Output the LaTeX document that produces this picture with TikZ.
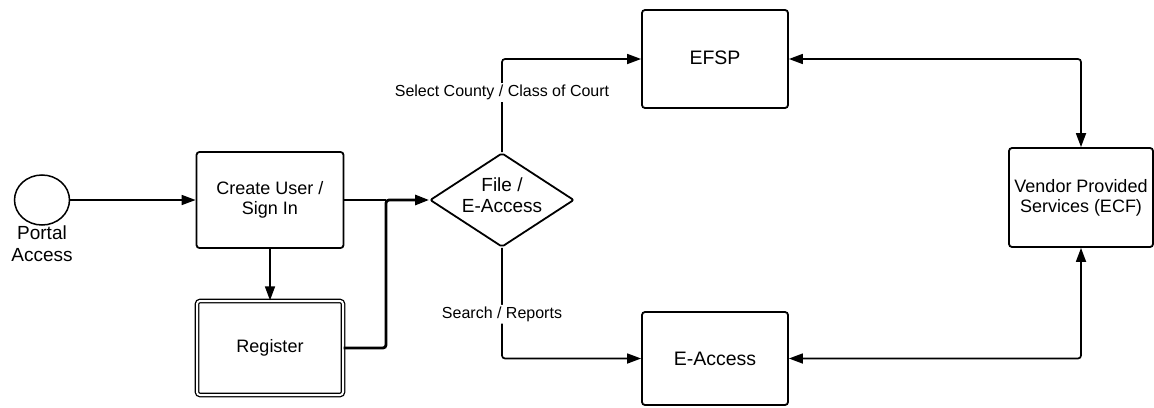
\documentclass[tikz,border=0pt]{standalone}
\usepackage{fontspec}
\setmainfont{Liberation Sans}
\usetikzlibrary{arrows.meta,shapes.geometric}
\begin{document}
\begin{tikzpicture}[x=1pt,y=-1pt,
  box/.style={draw, line width=1.8pt, rounded corners=3pt, inner sep=0pt, align=center,
    font=\fontsize{18}{20}\selectfont},
  dbox/.style={box, double, double distance=2pt, line width=1.3pt},
  decision/.style={draw, diamond, line width=1.8pt, rounded corners=2pt, inner sep=0pt},
  flow/.style={line width=1.7pt, rounded corners=3pt},
  tip/.style={Triangle[length=14pt,width=10pt]},
  arr/.style={flow, -{Triangle[length=14pt,width=10pt]}},
  dblarr/.style={flow, {Triangle[length=14pt,width=10pt]}-{Triangle[length=14pt,width=10pt]}},
  edgelbl/.style={fill=white, inner sep=2pt, font=\fontsize{16}{18}\selectfont}]
\useasboundingbox (0,0) rectangle (1154,407);

% start event and its caption
\node[draw, ellipse, line width=1.5pt, minimum width=55pt, minimum height=50pt, inner sep=0pt] (start) at (42,200) {};
\node[anchor=north, inner sep=0pt, align=center, font=\fontsize{19}{22}\selectfont] (startlbl) at (42,226) {Portal\\Access};

% process boxes
\node[box, minimum width=147pt, minimum height=96pt] (create) at (270,200) {Create User /\\Sign In};
\node[dbox, minimum width=146pt, minimum height=94pt] (register) at (270,348) {Register};
\node[decision, minimum width=144pt, minimum height=94pt, aspect=1.53,
  label={[yshift=5pt, align=center, inner sep=0pt, font=\fontsize{19}{21}\selectfont]center:File /\\E-Access}]
  (dia) at (502,200) {};
\node[box, minimum width=146pt, minimum height=98pt, font=\fontsize{19.5}{22}\selectfont] (efsp) at (715,59) {\raisebox{3pt}{EFSP}};
\node[box, minimum width=146pt, minimum height=93pt, font=\fontsize{19.5}{22}\selectfont] (eacc) at (715,358.5) {E-Access};
\node[box, minimum width=144pt, minimum height=99pt] (vendor) at (1081,197.5) {Vendor Provided\\Services (ECF)};

% connectors
\coordinate (join) at (386,200);
\draw[arr] (start) -- (create);
\draw[arr] (create) -- (register);
\draw[flow] (create.east) -- (join);
\draw[arr, line width=2.8pt] (register.east) -- (join |- register.east) -- (join) -- (dia.west);
\draw[arr] (dia.north) |- node[edgelbl, pos=0.32] {Select County / Class of Court} (efsp.west);
\draw[arr] (dia.south) |- node[edgelbl, pos=0.30] {Search / Reports} (eacc.west);
\draw[dblarr] (efsp.east) -| (vendor.north);
\draw[dblarr] (eacc.east) -| (vendor.south);
\end{tikzpicture}
\end{document}
